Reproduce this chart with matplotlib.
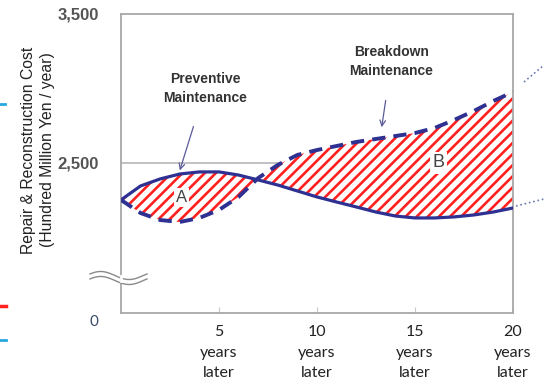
import numpy as np
import matplotlib.pyplot as plt
from matplotlib.lines import Line2D

# data (cost in hundred million yen / year)
years = list(range(0, 21))
preventive = [2252, 2346, 2393, 2426, 2440, 2440, 2419, 2386, 2352, 2312, 2272,
              2238, 2205, 2171, 2144, 2131, 2131, 2138, 2151, 2171, 2198]
breakdown = [2252, 2164, 2117, 2104, 2131, 2185, 2272, 2399, 2487, 2554, 2587,
             2614, 2641, 2661, 2681, 2701, 2735, 2789, 2849, 2916, 2977]
xticks = [5, 10, 15, 20]
xlabels = ['%d\nyears\nlater' % t for t in xticks]
yticks = [2500, 3500]
ylabels = ['2,500', '3,500']

navy = '#2e3192'
plt.rcParams['hatch.color'] = '#ff2020'
plt.rcParams['hatch.linewidth'] = 1.9

fig = plt.figure(figsize=(5.44, 3.81), dpi=100)
ax = fig.add_axes([121/544, 1-313/381, (513-121)/544, (313-14)/381])
ax.set_xlim(0, 20)
ax.set_ylim(1493, 3500)

ax.fill_between(years, preventive, breakdown, facecolor='white', edgecolor='#ff2020',
                hatch='///', linewidth=0, zorder=1)
ax.axhline(2500, color='#b0b0b0', lw=1.1, zorder=0.5)
ax.plot(years, preventive, color=navy, lw=2.3, solid_capstyle='round', zorder=3)
ax.plot(years, breakdown, color=navy, lw=2.8, dashes=(3.4, 2.1), zorder=3)

for s in ax.spines.values():
    s.set_color('#a8a8a8')
    s.set_linewidth(1.3)

ax.set_xticks(xticks)
ax.set_xticklabels(xlabels, family='Lato', fontsize=11.5, color='#222222', linespacing=1.55)
ax.tick_params(axis='x', direction='in', length=4, color='#c8c8c8', pad=9)
ax.set_yticks(yticks)
ax.set_yticklabels(ylabels, family='Liberation Sans', fontsize=12, color='#555555',
                   fontweight='bold')
ax.tick_params(axis='y', length=0, pad=16)
ax.text(-0.07, -0.03, '0', transform=ax.transAxes, ha='center', va='center',
        family='Lato', fontsize=11, color='#3a4a6a')

# region labels
box = dict(facecolor='white', edgecolor='none', pad=1.5)
ax.text(3.1, 2270, 'A', ha='center', va='center', fontsize=12, color='#444444',
        family='Liberation Sans', bbox=box, zorder=4)
ax.text(16.2, 2500, 'B', ha='center', va='center', fontsize=13, color='#444444',
        family='Liberation Sans', bbox=box, zorder=4)

# annotations
ax.annotate('Preventive\nMaintenance', xy=(3.0, 2450), xytext=(4.3, 3000),
            ha='center', va='center', fontsize=10, fontweight='bold', color='#333333',
            family='Liberation Sans', linespacing=1.5,
            arrowprops=dict(arrowstyle='->', color='#5a5a9a', lw=0.9,
                            shrinkA=14, shrinkB=0))
ax.annotate('Breakdown\nMaintenance', xy=(13.3, 2740), xytext=(13.8, 3180),
            ha='center', va='center', fontsize=10, fontweight='bold', color='#333333',
            family='Liberation Sans', linespacing=1.5,
            arrowprops=dict(arrowstyle='->', color='#5a5a9a', lw=0.9,
                            shrinkA=14, shrinkB=0))

fig.text(38/544, 1-150/381, 'Repair & Reconstruction Cost\n(Hundred Million Yen / year)',
         rotation=90, ha='center', va='center', fontsize=11.3, color='#222222',
         family='Liberation Sans', linespacing=1.3)

# axis break squiggle
t = np.linspace(0, 1, 60)
wx = (90 + 57*t) / 544
for off in (-2.5, 2.5):
    wy = 1 - (278 + off - 4*np.sin(2*np.pi*t + 0.4)) / 381
    fig.add_artist(Line2D(wx, wy, color='#8a8a8a', lw=1.0))
fig.add_artist(Line2D([121/544, 121/544], [1-276/381, 1-281/381], color='white', lw=2))

# cut-off marks around the edges
fig.add_artist(Line2D([524/544, 544/544], [1-82/381, 1-65/381], color='#6a7ab0',
                      lw=1.2, ls=':'))
fig.add_artist(Line2D([516/544, 544/544], [1-206/381, 1-199/381], color='#6a7ab0',
                      lw=1.2, ls=':'))
fig.add_artist(Line2D([0, 5/544], [1-104/381, 1-104/381], color='#29a8e0', lw=2))
fig.add_artist(Line2D([0, 6/544], [1-306/381, 1-306/381], color='#ff2020', lw=2.5))
fig.add_artist(Line2D([0, 6/544], [1-340/381, 1-340/381], color='#29a8e0', lw=2))

fig.savefig('out.png', dpi=100, facecolor='white')
